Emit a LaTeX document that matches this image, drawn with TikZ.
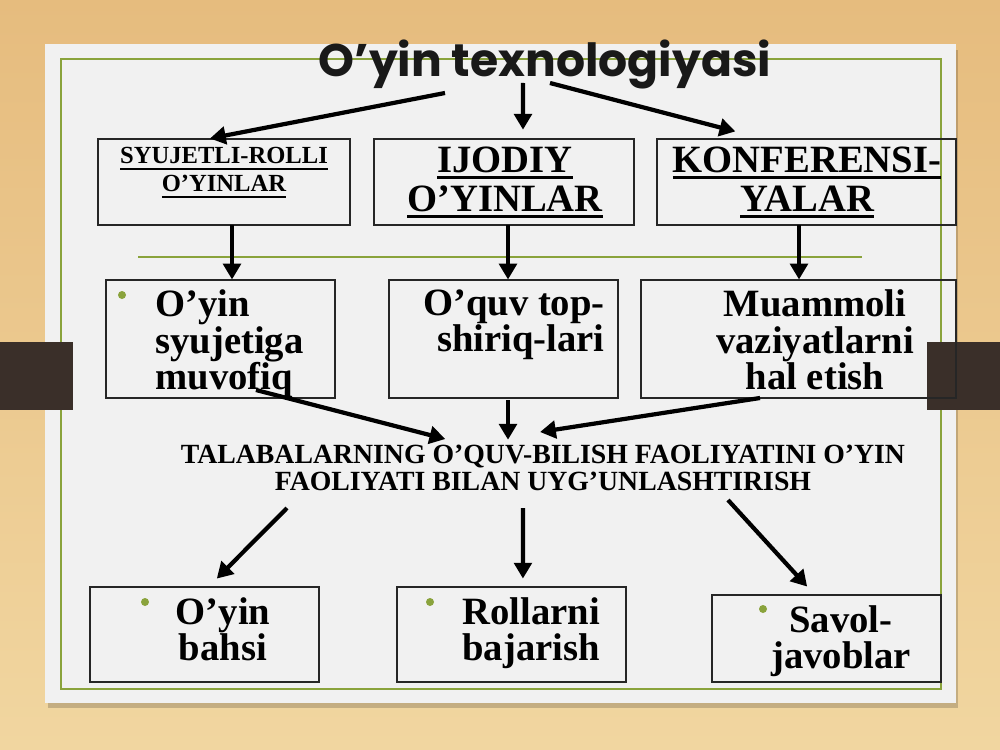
\documentclass[tikz,border=0pt]{standalone}
\usepackage{fontspec}
\setmainfont{Liberation Serif}
\newfontfamily\titlefont{Poppins}
\usetikzlibrary{arrows.meta, fit, positioning}

\definecolor{woodtop}{HTML}{E6BC7E}
\definecolor{woodbottom}{HTML}{F1D6A0}
\definecolor{panelgray}{HTML}{F1F1F1}
\definecolor{bordergreen}{HTML}{8AA33C}
\definecolor{tabbrown}{HTML}{3A2F29}

\newcommand{\ulined}[2][1.5pt]{\leavevmode\setbox0\hbox{#2}\rlap{\rule[-3.5pt]{\wd0}{#1}}\box0}

\tikzset{
  box/.style={draw=black!85, line width=0.6pt, inner sep=0pt},
  title/.style={font=\titlefont\fontsize{26}{26}\selectfont\bfseries, text=black!90, inner sep=0pt},
  smallhead/.style={font=\fontsize{14}{16}\selectfont\bfseries, align=center, inner sep=0pt},
  bighead/.style={font=\fontsize{22}{22}\selectfont\bfseries, align=center, inner sep=0pt},
  mid/.style={font=\fontsize{22}{21}\selectfont\bfseries, inner sep=0pt},
  low/.style={font=\fontsize{22}{20.4}\selectfont\bfseries, inner sep=0pt},
  center/.style={font=\fontsize{15.8}{15.3}\selectfont\bfseries, align=center, inner sep=0pt},
  dot/.style={circle, fill=bordergreen, minimum size=0.16cm, inner sep=0pt},
  arr/.style={line width=2.4pt, -{Triangle[length=9pt, width=10pt]}},
}

\begin{document}
\begin{tikzpicture}[x=0.02cm, y=-0.02cm]
\useasboundingbox (0,0) rectangle (1000,750);

% slide background
\shade [top color=woodtop, bottom color=woodbottom] (0,0) rectangle (1000,750);
\fill [black, opacity=0.18] (48,50) rectangle (958,708);
\fill [panelgray] (45,44) rectangle (956,703);
\draw [bordergreen, line width=1.4pt] (61,59) rectangle (941,689);
\draw [bordergreen, line width=0.7pt] (138,257) -- (862,257);
\fill [tabbrown] (0,342) rectangle (73,410);
\fill [tabbrown] (927,342) rectangle (1000,410);

% title
\node (T) [title, anchor=base] at (545,77) {O’yin texnologiyasi};
\coordinate (TL) at (445,93);
\coordinate (TM) at (523,83);
\coordinate (TR) at (550,83);

% top row
\node (B1) [box, fit={(98,139) (350,225)}] {};
\node (B2) [box, fit={(374,139) (634,225)}] {};
\node (B3) [box, fit={(657,139) (956,225)}] {};
\node (H1) [smallhead, anchor=north] at (224,147) {\ulined[0.8pt]{SYUJETLI-ROLLI}\\\ulined[0.8pt]{O’YINLAR}};
\node (H2) [bighead, anchor=north] at (505,147) {\ulined{IJODIY}\\\ulined{O’YINLAR}};
\node (H3) [bighead, anchor=north] at (807,147) {\ulined{KONFERENSI-}\\\ulined{YALAR}};

% middle row
\node (B4) [box, fit={(106,280) (335,398)}] {};
\node (B5) [box, fit={(389,280) (618,398)}] {};
\node (B6) [box, fit={(641,280) (956,398)}] {};
\node (P4) [dot] at (122,295) {};
\node (M4) [mid, align=left, anchor=north west] at (155,289) {O’yin\\syujetiga\\muvofiq};
\node (M5) [mid, align=right, anchor=north east] at (605,289) {O’quv top-\\shiriq-lari};
\node (M6) [mid, align=center, anchor=north] at (815,289) {Muammoli\\vaziyatlarni\\hal etish};

% joint text
\node (C) [center, anchor=north] at (543,445) {TALABALARNING O’QUV-BILISH FAOLIYATINI O’YIN\\FAOLIYATI BILAN UYG’UNLASHTIRISH};

% bottom row
\node (B7) [box, fit={(90,587) (319,682)}] {};
\node (B8) [box, fit={(397,587) (626,682)}] {};
\node (B9) [box, fit={(712,595) (941,682)}] {};
\node (P7) [dot] at (145,602) {};
\node (P8) [dot] at (430,602) {};
\node (P9) [dot] at (763,609) {};
\node (L7) [low, align=center, anchor=north] at (223,597) {O’yin\\bahsi};
\node (L8) [low, align=left, anchor=north west] at (462,597) {Rollarni\\bajarish};
\node (L9) [low, align=center, anchor=north] at (841,605) {Savol-\\javoblar};

% arrow starts
\coordinate (D1) at (232,225);
\coordinate (D2) at (508,225);
\coordinate (D3) at (799,225);
\coordinate (S4) at (256,390);
\coordinate (S5) at (508,400);
\coordinate (S6) at (760,398);
\coordinate (E1) at (287,508);
\coordinate (E2) at (523,508);
\coordinate (E3) at (728,500);

\path [arr]
(TL) edge ([xshift=-8pt]B1.north)
(TM) edge ([xshift=10.8pt, yshift=5pt]B2.north)
(TR) edge ([xshift=-40.5pt, yshift=4pt]B3.north)
(D1) edge (D1 |- B4.north)
(D2) edge (D2 |- B5.north)
(D3) edge (D3 |- B6.north)
(S4) edge ([xshift=-55.6pt, yshift=3.4pt]C.north)
(S5) edge [shorten >=3pt] (S5 |- C.north)
(S6) edge ([xshift=-1.7pt, yshift=7.4pt]C.north)
(E1) edge ([xshift=7pt, yshift=4.5pt]B7.north)
(E2) edge ([xshift=6.5pt, yshift=4.5pt]B8.north)
(E3) edge ([xshift=-11pt, yshift=4.5pt]B9.north)
;

\end{tikzpicture}
\end{document}
